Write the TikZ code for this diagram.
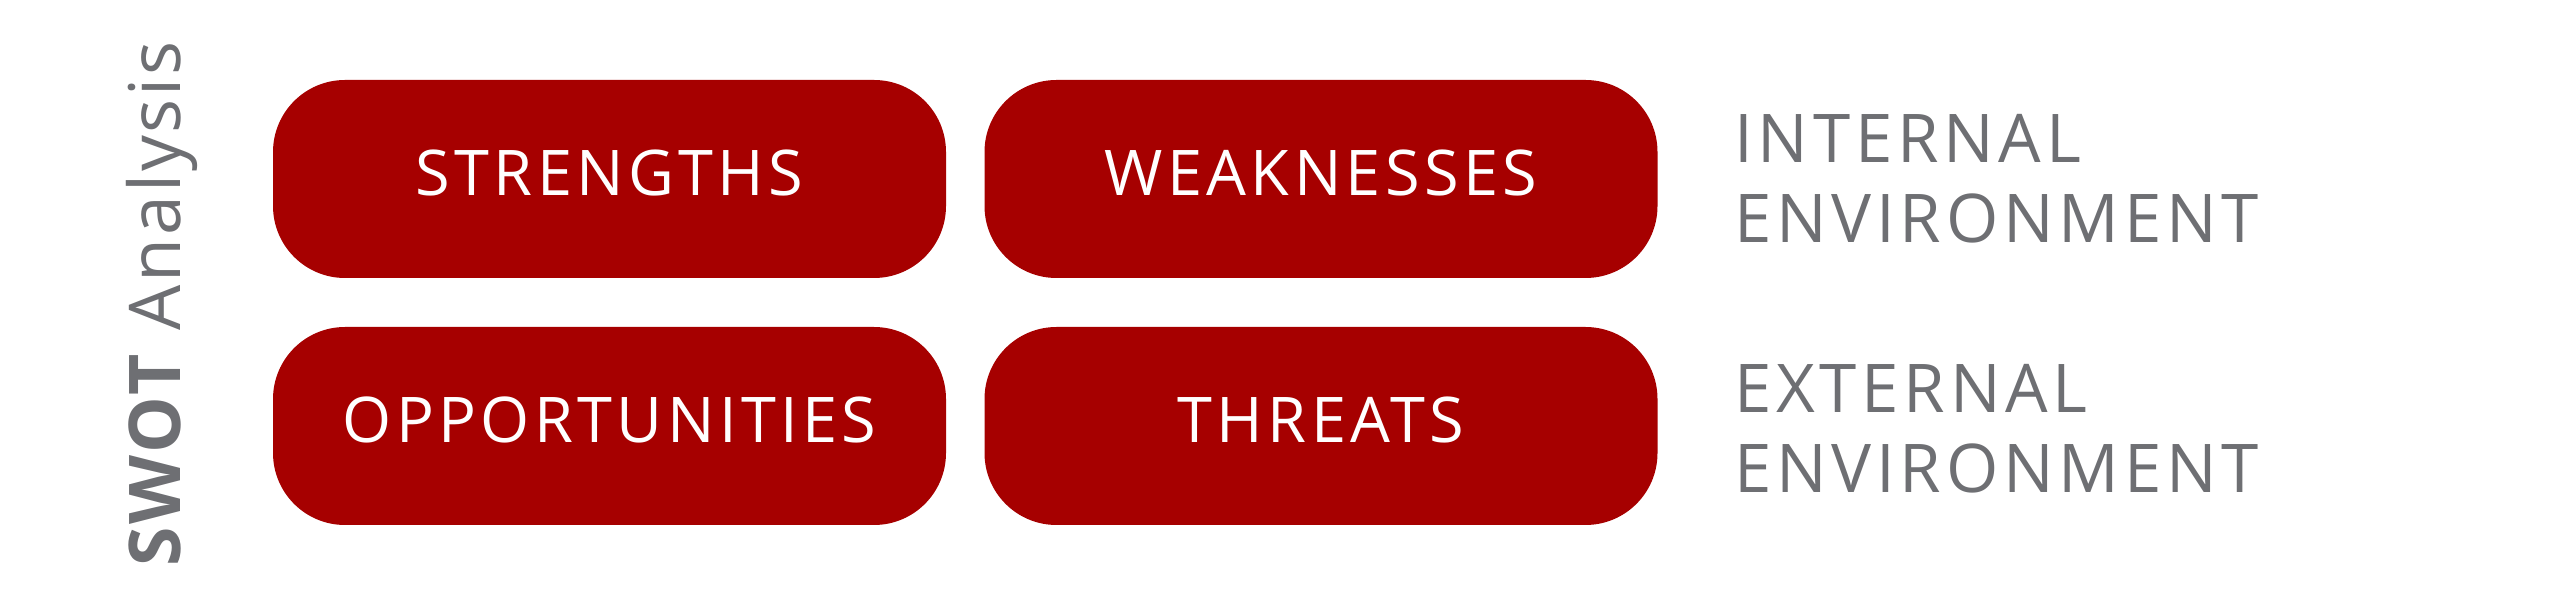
\documentclass[tikz,border=0pt]{standalone}
\usepackage{fontspec}
\setmainfont{Open Sans}
\newfontfamily\boxfont[LetterSpace=7]{Open Sans}
\newfontfamily\envfont[LetterSpace=7]{Open Sans}
\newfontfamily\titlefont[LetterSpace=4]{Open Sans}
\definecolor{swotred}{RGB}{166,0,0}
\definecolor{swotgray}{RGB}{110,111,115}

\begin{document}
\begin{tikzpicture}[
    x=0.5pt, y=0.5pt,
    swotbox/.style={fill=swotred,rounded corners=36pt,inner sep=0pt,
      minimum width=336.5pt,minimum height=99pt,text depth=6.5pt,
      text=white,font=\boxfont\fontsize{31.5}{38}\selectfont},
    envlabel/.style={text=swotgray,align=left,anchor=base west,inner sep=0pt,
      font=\envfont\fontsize{33.6}{40}\selectfont},
    swottitle/.style={text=swotgray,rotate=90,anchor=base west,inner sep=0pt,
      font=\titlefont\fontsize{35.7}{40}\selectfont},
  ]
  \useasboundingbox (0,0) rectangle (2560,594);

  % The four quadrants
  \foreach \name/\x/\y/\text in {S/609.5/415/STRENGTHS, W/1321/415/WEAKNESSES,
                                 O/609.5/168/OPPORTUNITIES, T/1321/168/THREATS}
    \node[swotbox] (\name) at (\x, \y) {\text};

  % Row labels (anchored on the baseline of the second line)
  \node[envlabel] (internal) at (1734, 351) {INTERNAL\\ENVIRONMENT};
  \node[envlabel] (external) at (1734, 101) {EXTERNAL\\ENVIRONMENT};

  % Vertical title
  \node[swottitle] (title) at (180, 27) {\textbf{SWOT} Analysis};
\end{tikzpicture}
\end{document}
